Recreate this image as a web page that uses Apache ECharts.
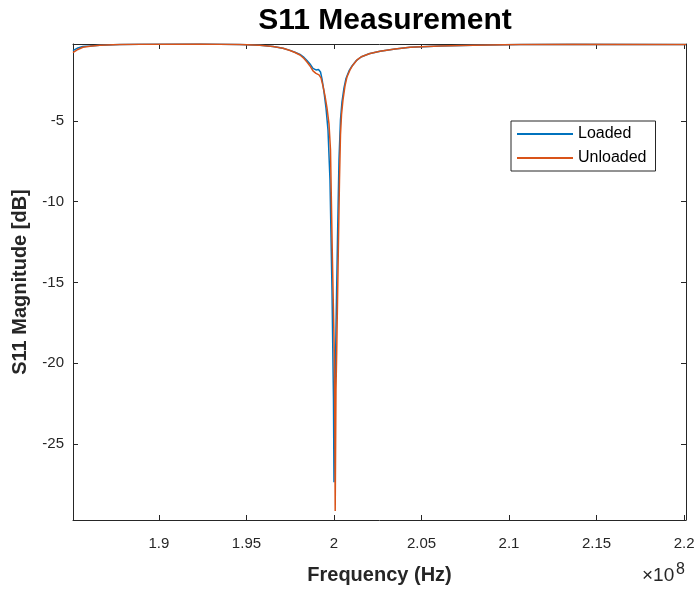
<!DOCTYPE html>
<html>
<head>
<meta charset="utf-8">
<script src="https://cdn.jsdelivr.net/npm/echarts@6/dist/echarts.min.js"></script>
<style>html,body{margin:0;padding:0;background:#fff}#c{width:699px;height:590px}</style>
</head>
<body>
<div id="c"></div>
<script>
// Frequency in units of 1e8 Hz
const loadedFreq = [1.85086,1.85371,1.85657,1.86057,1.86629,1.87771,1.88914,1.92343,1.94629,1.95771,1.96514,1.97086,1.97486,1.97771,1.98057,1.98286,1.98457,1.98629,1.98800,1.98971,1.99114,1.99229,1.99314,1.99429,1.99543,1.99657,1.99771,1.99886,1.99971,2.00000,2.00057,2.00114,2.00200,2.00286,2.00371,2.00457,2.00571,2.00686,2.00857,2.01029,2.01257,2.01543,2.02000,2.02629,2.03486,2.04343,2.06057,2.07943,2.10629,2.13657,2.20114];
const loadedS11 = [-0.66,-0.49,-0.40,-0.37,-0.32,-0.28,-0.26,-0.247,-0.275,-0.325,-0.40,-0.51,-0.64,-0.76,-0.895,-1.08,-1.265,-1.481,-1.759,-1.852,-1.821,-1.975,-2.407,-3.21,-4.198,-5.556,-8.642,-15.43,-22.22,-27.35,-22.22,-17.90,-12.35,-7.41,-4.94,-3.827,-2.963,-2.377,-1.914,-1.605,-1.296,-1.049,-0.852,-0.70,-0.555,-0.45,-0.37,-0.326,-0.284,-0.258,-0.276];
const unloadedFreq = [1.85086,1.85371,1.85657,1.86057,1.86629,1.87771,1.88914,1.92343,1.94629,1.95771,1.96514,1.97086,1.97486,1.97771,1.98057,1.98286,1.98457,1.98629,1.98800,1.98971,1.99143,1.99257,1.99371,1.99486,1.99600,1.99714,1.99800,1.99903,2.00017,2.00046,2.00069,2.00114,2.00154,2.00246,2.00314,2.00371,2.00429,2.00514,2.00629,2.00743,2.00914,2.01086,2.01314,2.01600,2.02057,2.02629,2.03486,2.04343,2.06057,2.07943,2.10629,2.13657,2.20114];
const unloadedS11 = [-0.784,-0.586,-0.451,-0.383,-0.327,-0.284,-0.259,-0.247,-0.278,-0.327,-0.401,-0.512,-0.648,-0.772,-0.926,-1.142,-1.358,-1.605,-1.914,-2.068,-2.160,-2.346,-2.840,-3.457,-4.198,-5.185,-6.790,-13.148,-19.321,-23.457,-29.136,-21.605,-19.321,-13.148,-8.642,-5.864,-4.630,-3.704,-2.840,-2.284,-1.852,-1.543,-1.235,-1.019,-0.833,-0.698,-0.556,-0.451,-0.370,-0.327,-0.284,-0.259,-0.278];
const xTicks = [1.9,1.95,2,2.05,2.1,2.15,2.2];
const yTicks = [-25,-20,-15,-10,-5];
const seriesNames = ['Loaded','Unloaded'];

const FONT = "'Liberation Sans', Arial, Helvetica, sans-serif";
const AX = '#262626';
const chart = echarts.init(document.getElementById('c'), null, {renderer:'canvas'});
const xmin = 1.8509, xmax = 2.2011, ymin = -29.69, ymax = -0.247;
function zip(a,b){return a.map((v,i)=>[v,b[i]]);}
const baseX = {type:'value', min:xmin, max:xmax, splitLine:{show:false},
  axisLine:{show:true, onZero:false, lineStyle:{color:AX,width:1}}};
const baseY = {type:'value', min:ymin, max:ymax, splitLine:{show:false},
  axisLine:{show:true, onZero:false, lineStyle:{color:AX,width:1}}};
chart.setOption({
  animation:false,
  backgroundColor:'#fff',
  title:{text:'S11 Measurement', left:380, top:1, textAlign:'center',
    textStyle:{fontFamily:FONT, fontSize:30, fontWeight:'bold', color:'#000'}},
  grid:{left:73, right:13, top:44, bottom:69, containLabel:false},
  legend:{data:seriesNames, orient:'vertical', left:511, top:121,
    backgroundColor:'#fff', borderColor:AX, borderWidth:1,
    padding:[5,9,5,6], itemGap:8, itemWidth:56, itemHeight:2, icon:'rect',
    textStyle:{fontFamily:FONT, fontSize:16, color:'#000'}},
  xAxis:[
    Object.assign({}, baseX, {position:'bottom', name:'Frequency (Hz)', nameLocation:'middle', nameGap:45,
      nameTextStyle:{fontFamily:FONT, fontSize:20, fontWeight:'bold', color:'#262626'},
      axisTick:{show:true, inside:true, length:5, customValues:xTicks, lineStyle:{color:AX}},
      axisLabel:{show:true, margin:16, customValues:xTicks, fontFamily:FONT, fontSize:15, color:'#262626',
        formatter:v=>String(+v.toFixed(2))}}),
    Object.assign({}, baseX, {position:'top',
      axisTick:{show:true, inside:true, length:5, customValues:xTicks, lineStyle:{color:AX}},
      axisLabel:{show:false}})
  ],
  yAxis:[
    Object.assign({}, baseY, {position:'left', name:'S11 Magnitude [dB]', nameLocation:'middle', nameGap:43,
      nameTextStyle:{fontFamily:FONT, fontSize:20, fontWeight:'bold', color:'#262626'},
      axisTick:{show:true, inside:true, length:5, customValues:yTicks, lineStyle:{color:AX}},
      axisLabel:{show:true, margin:9, customValues:yTicks, fontFamily:FONT, fontSize:15, color:'#262626'}}),
    Object.assign({}, baseY, {position:'right',
      axisTick:{show:true, inside:true, length:5, customValues:yTicks, lineStyle:{color:AX}},
      axisLabel:{show:false}})
  ],
  series:[
    {name:seriesNames[0], type:'line', data:zip(loadedFreq,loadedS11), showSymbol:false, symbol:'none',
      color:'#0072BD', lineStyle:{width:1.5, color:'#0072BD'}, smooth:false, z:2},
    {name:seriesNames[1], type:'line', data:zip(unloadedFreq,unloadedS11), showSymbol:false, symbol:'none',
      color:'#D95319', lineStyle:{width:1.5, color:'#D95319'}, smooth:false, z:3}
  ],
  graphic:[
    {type:'text', left:642, top:566, style:{text:'×10', fontFamily:FONT, fontSize:19, fill:'#262626'}},
    {type:'text', left:676, top:562, style:{text:'8', fontFamily:FONT, fontSize:16, fill:'#262626'}}
  ]
});
</script>
</body>
</html>
